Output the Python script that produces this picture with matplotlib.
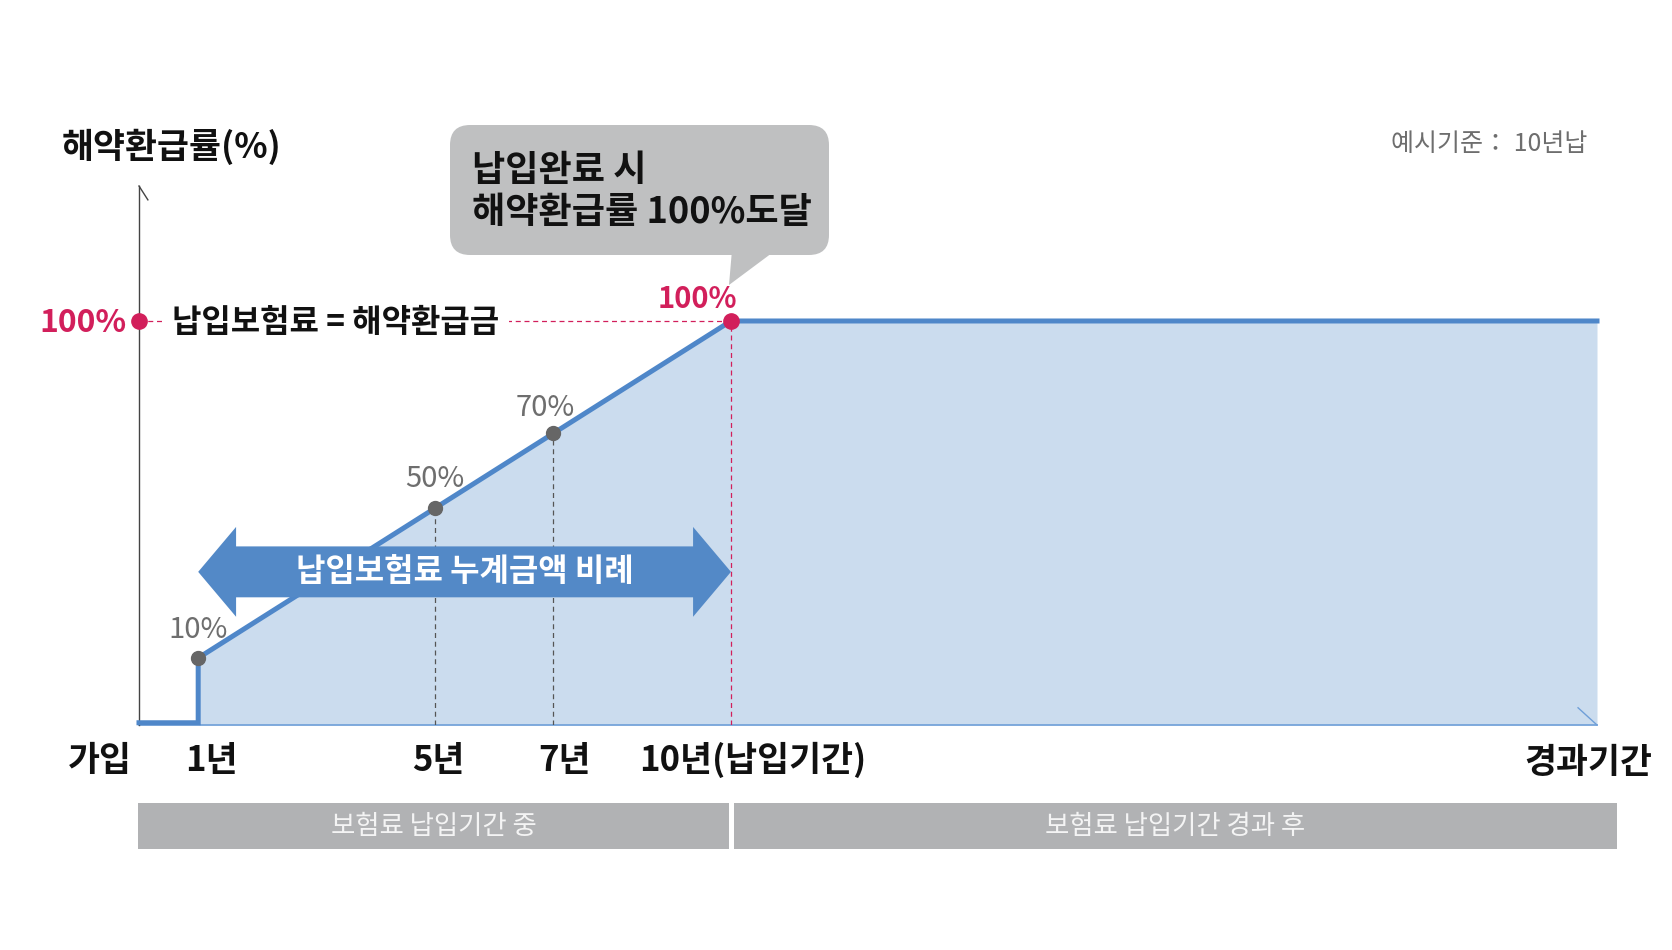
import matplotlib.pyplot as plt
from matplotlib.patches import FancyBboxPatch, Polygon, Rectangle

plt.rcParams['font.family'] = ['Noto Sans CJK KR', 'DejaVu Sans']

# data
years = [1, 5, 7, 10]
refund_rates = [10, 50, 70, 100]
end_year = 24.63
rate_labels = ['10%', '50%', '70%', '100%']
tick_years = [0, 1, 5, 7, 10]
tick_labels = ['가입', '1년', '5년', '7년', '10년(납입기간)']
phase_labels = ['보험료 납입기간 중', '보험료 납입기간 경과 후']

# colours
BLUE = '#4f87c9'
FILL = '#cbdcee'
RED = '#d21f5b'
DOT_GRAY = '#666666'
LABEL_GRAY = '#6e6e6e'
BAR_GRAY = '#b1b2b4'
CALLOUT = '#bfc0c1'
ARROW_BLUE = '#5389c7'

W, H = 1672, 950
ymin, ymax = -7.9, 136.05


def fx(px):
    return px / W


def fy(py):
    return 1 - py / H


fig = plt.figure(figsize=(W / 100, H / 100), dpi=100)
ax = fig.add_axes([fx(139), fy(725), (1597 - 139) / W, (725 - 186) / H])
ax.set_xlim(0, end_year)
ax.set_ylim(ymin, ymax)
ax.axis('off')

# area + line
ax.fill_between(years + [end_year], refund_rates + [100], ymin, color=FILL, lw=0, zorder=1)
ax.plot([0, years[0]] + years + [end_year], [ymin + 0.6, ymin + 0.6] + refund_rates + [100],
        color=BLUE, lw=3.6, solid_joinstyle='miter', clip_on=False, zorder=4)

# axes lines
ax.plot([0, end_year], [ymin, ymin], color='#6f9fd8', lw=1.2, clip_on=False, zorder=2)
ax.plot([end_year - 0.32, end_year], [ymin + 4.6, ymin], color='#6f9fd8', lw=1.0, clip_on=False)
ax.plot([0, 0], [ymin, ymax], color='#444444', lw=1.0, clip_on=False, zorder=2)
ax.plot([0, 0.15], [ymax, ymax - 3.7], color='#444444', lw=1.0, clip_on=False)

# guide lines
for yr, rt in zip(years[1:3], refund_rates[1:3]):
    ax.plot([yr, yr], [ymin, rt], color='#555555', lw=0.9, ls=(0, (4, 3)), zorder=2)
ax.plot([years[-1], years[-1]], [ymin, refund_rates[-1]], color=RED, lw=0.9, ls=(0, (4, 3)), zorder=2)
ax.plot([0, years[-1]], [refund_rates[-1], refund_rates[-1]], color=RED, lw=0.9, ls=(0, (4, 3)), zorder=2)

# points
ax.plot(years[:3], refund_rates[:3], 'o', ms=10, color=DOT_GRAY, zorder=5)
ax.plot([0, years[-1]], [refund_rates[-1], refund_rates[-1]], 'o', ms=11, color=RED, clip_on=False, zorder=5)

offsets = [(0, 28), (0, 29), (-8, 25), (-34, 22)]
for yr, rt, lab, off in zip(years, refund_rates, rate_labels, offsets):
    col = RED if rt == 100 else LABEL_GRAY
    ax.annotate(lab, (yr, rt), xytext=off, textcoords='offset pixels', ha='center', va='center',
                fontsize=21, color=col, fontweight='bold' if rt == 100 else 'medium', zorder=6)

ax.annotate('100%', (0, refund_rates[-1]), xytext=(-12, -2), textcoords='offset pixels',
            ha='right', va='center', fontsize=23, color=RED, fontweight='bold')
ax.annotate('납입보험료 = 해약환급금', (0, refund_rates[-1]), xytext=(33, -2), textcoords='offset pixels',
            ha='left', va='center', fontsize=23, color='#111111', fontweight='bold',
            bbox=dict(boxstyle='square,pad=0.3', fc='white', ec='none'), zorder=3)

# x labels
label_dx = [-39, 13, 3, 11, 22]
for yr, lab, dx in zip(tick_years, tick_labels, label_dx):
    ax.annotate(lab, (yr, ymin), xytext=(dx, -35), textcoords='offset pixels', ha='center', va='center',
                fontsize=25, fontweight='bold', color='#111111', annotation_clip=False)
fig.text(fx(1652), fy(762), '경과기간', ha='right', va='center', fontsize=25, fontweight='bold', color='#111111')

# double arrow over payment period
x_l, x_r = years[0], years[-1]
yc, hl, hh, sh = 33, 0.64, 12, 6.8
arrow_pts = [(x_l, yc), (x_l + hl, yc + hh), (x_l + hl, yc + sh), (x_r - hl, yc + sh), (x_r - hl, yc + hh),
             (x_r, yc), (x_r - hl, yc - hh), (x_r - hl, yc - sh), (x_l + hl, yc - sh), (x_l + hl, yc - hh)]
ax.add_patch(Polygon(arrow_pts, closed=True, fc=ARROW_BLUE, ec='none', zorder=6))
ax.text((x_l + x_r) / 2, yc, '납입보험료 누계금액 비례', ha='center', va='center', fontsize=23,
        fontweight='bold', color='white', zorder=7)

# titles
fig.text(fx(62), fy(147), '해약환급률(%)', ha='left', va='center', fontsize=25, fontweight='bold', color='#111111')
fig.text(fx(1587), fy(144), '예시기준： 10년납', ha='right', va='center', fontsize=18, color=LABEL_GRAY)

# callout
box = FancyBboxPatch((fx(450), fy(255)), (829 - 450) / W, (255 - 125) / H,
                     boxstyle='round,pad=0,rounding_size=0.012', mutation_aspect=W / H,
                     transform=fig.transFigure, fc=CALLOUT, ec='none')
fig.add_artist(box)
fig.add_artist(Polygon([(fx(732), fy(250)), (fx(776), fy(250)), (fx(729), fy(285))], closed=True,
                       transform=fig.transFigure, fc=CALLOUT, ec='none'))
fig.text(fx(472), fy(170), '납입완료 시', ha='left', va='center', fontsize=26, fontweight='bold', color='#111111')
fig.text(fx(472), fy(212), '해약환급률 100%도달', ha='left', va='center', fontsize=26, fontweight='bold',
         color='#111111')

# phase bars
bars = [(138, 729), (734, 1617)]
for (x0, x1), lab in zip(bars, phase_labels):
    fig.add_artist(Rectangle((fx(x0), fy(849)), (x1 - x0) / W, (849 - 803) / H,
                             transform=fig.transFigure, fc=BAR_GRAY, ec='none'))
    fig.text(fx((x0 + x1) / 2), fy(827), lab, ha='center', va='center', fontsize=19, color='#f4f4f4')

fig.savefig('out.png', dpi=100)
